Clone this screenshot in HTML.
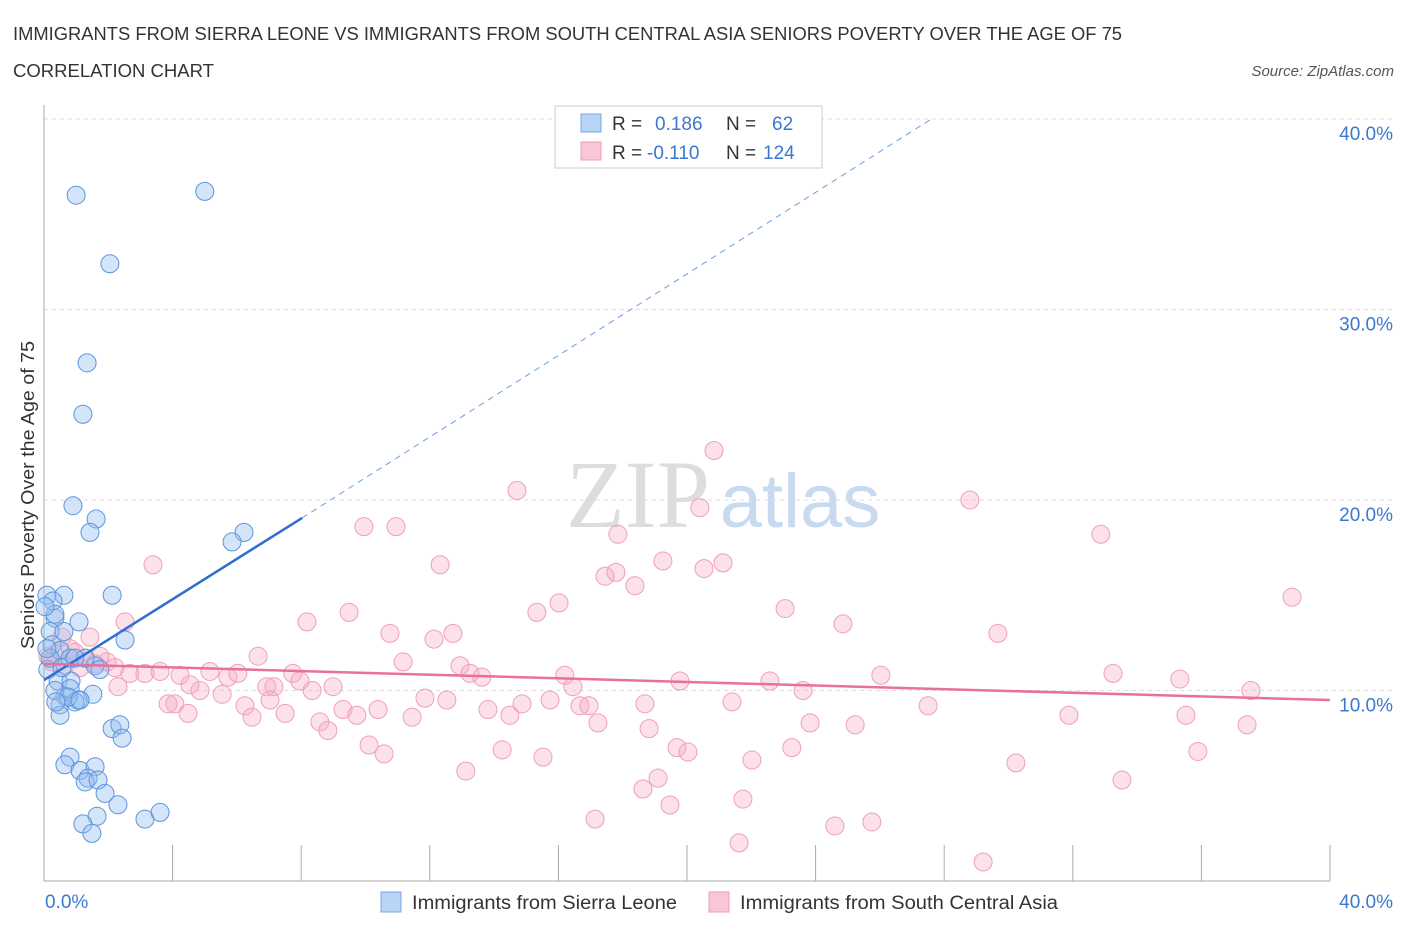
<!DOCTYPE html>
<html><head><meta charset="utf-8"><style>
body{margin:0;background:#fff;font-family:"Liberation Sans",sans-serif}
</style></head><body>
<svg id="chart" width="1406" height="930" xmlns="http://www.w3.org/2000/svg" font-family="Liberation Sans, sans-serif">
<text x="13" y="40" font-size="18" fill="#333" textLength="1109" lengthAdjust="spacingAndGlyphs">IMMIGRANTS FROM SIERRA LEONE VS IMMIGRANTS FROM SOUTH CENTRAL ASIA SENIORS POVERTY OVER THE AGE OF 75</text>
<text x="13" y="77" font-size="18" fill="#333" textLength="201" lengthAdjust="spacingAndGlyphs">CORRELATION CHART</text>
<text x="1394" y="76" font-size="15" fill="#555" text-anchor="end" font-style="italic">Source: ZipAtlas.com</text>
<g>
<text x="638" y="527" font-size="96" fill="#ddd" text-anchor="middle" font-family="Liberation Serif, serif">ZIP</text>
<text x="800" y="527" font-size="76" fill="#c8daf0" text-anchor="middle">atlas</text>
</g>
<g id="grid"></g><g id="axes"></g><g id="pts"></g><g id="trend"></g>
<text transform="translate(34,495) rotate(-90)" font-size="18" fill="#333" text-anchor="middle" textLength="308" lengthAdjust="spacingAndGlyphs">Seniors Poverty Over the Age of 75</text>
<g>
<rect x="555" y="106" width="267" height="62" fill="#fff" stroke="#ccc"/>
<rect x="581" y="114" width="20" height="18" fill="#b8d4f6" stroke="#7aa8e6"/>
<rect x="581" y="142" width="20" height="18" fill="#f9c6d6" stroke="#ee9ab6"/>
<text x="612" y="130" font-size="19" fill="#333">R =</text><text x="655" y="130" font-size="19" fill="#3a78d0">0.186</text>
<text x="726" y="130" font-size="19" fill="#333">N =</text><text x="772" y="130" font-size="19" fill="#3a78d0">62</text>
<text x="612" y="159" font-size="19" fill="#333">R =</text><text x="647" y="159" font-size="19" fill="#3a78d0">-0.110</text>
<text x="726" y="159" font-size="19" fill="#333">N =</text><text x="763" y="159" font-size="19" fill="#3a78d0">124</text>
</g>
<g>
<rect x="381" y="892" width="20" height="20" fill="#b8d4f6" stroke="#7aa8e6"/>
<text x="412" y="909" font-size="19" fill="#333" textLength="265" lengthAdjust="spacingAndGlyphs">Immigrants from Sierra Leone</text>
<rect x="709" y="892" width="20" height="20" fill="#f9c6d6" stroke="#ee9ab6"/>
<text x="740" y="909" font-size="19" fill="#333" textLength="318" lengthAdjust="spacingAndGlyphs">Immigrants from South Central Asia</text>
</g>
</svg>
<script>
const yTicks=[10,20,30,40];
const yTickLabels=["10.0%","20.0%","30.0%","40.0%"];
const xTicks=[0,4,8,12,16,20,24,28,32,36,40];
const xEndLabels=["0.0%","40.0%"];
const blueX=[1,5,2.05,1.34,1.21,0.9,1.62,1.43,6.22,5.85,2.12,0.62,0.09,0.28,0.34,1.09,2.52,0.19,0.25,0.5,0.81,1.59,0.12,0.44,0.84,1.52,0.65,1.06,0.5,0.96,0.81,0.34,0.5,2.12,2.36,2.43,0.81,0.65,1.12,1.59,1.37,1.28,1.68,1.9,2.3,1.65,1.21,1.49,3.14,3.61,0.19,0.09,0.56,1.28,1.74,0.75,0.96,0.37,0.62,1.12,0.34,0.03];
const blueY=[36.0,36.2,32.4,27.2,24.5,19.7,19.0,18.3,18.3,17.8,15.0,15.0,15.0,14.7,13.8,13.6,12.65,13.1,12.4,12.1,11.7,11.3,11.1,10.5,10.5,9.8,9.7,9.5,9.25,9.4,10.1,10.0,8.7,8.0,8.2,7.5,6.5,6.1,5.8,6.0,5.4,5.2,5.3,4.6,4.0,3.4,3.0,2.5,3.25,3.6,11.7,12.2,11.2,11.7,11.1,9.65,11.7,9.4,13.1,9.5,14.0,14.4];
const pinkX=[20.84,14.71,28.8,20.4,9.95,10.95,17.85,32.87,3.39,12.32,19.25,21.12,20.53,17.79,17.45,18.38,16.02,38.82,9.49,15.33,23.05,2.52,8.18,24.85,10.76,12.72,12.13,29.67,0.56,1.43,6.66,11.17,12.94,13.25,13.62,16.2,33.25,35.33,26.03,19.78,22.58,16.45,23.61,37.54,1.96,2.21,2.67,3.14,3.61,4.23,5.16,5.72,6.03,6.93,7.15,7.74,7.96,8.34,8.99,7.03,4.85,5.54,4.54,2.3,3.86,4.07,4.48,6.25,6.47,7.5,8.58,8.83,9.3,9.73,10.39,11.45,11.85,12.53,13.81,14.49,14.87,15.74,16.67,16.95,17.23,18.69,21.4,23.83,25.23,27.5,31.88,35.52,37.42,10.11,10.58,14.25,15.52,13.12,18.82,19.69,20.03,22.02,23.26,30.23,33.53,35.89,19.1,18.63,19.47,21.74,17.14,24.6,25.75,21.62,29.21,1.28,1.59,0.34,0.81,1.74,0.65,1.12,0.96,0.12,0.25];
const pinkY=[22.6,20.5,20.0,19.6,18.6,18.6,18.2,18.2,16.6,16.6,16.8,16.7,16.4,16.2,16.0,15.5,14.6,14.9,14.1,14.1,14.3,13.6,13.6,13.5,13.0,13.0,12.7,13.0,12.8,12.8,11.8,11.5,11.3,10.9,10.7,10.8,10.9,10.6,10.8,10.5,10.5,10.2,10.0,10.0,11.5,11.2,10.9,10.9,11.0,10.8,11.0,10.7,10.9,10.2,10.2,10.9,10.5,10.0,10.2,9.5,10.0,9.8,10.3,10.2,9.3,9.3,8.8,9.2,8.6,8.8,8.35,7.9,9.0,8.7,9.0,8.6,9.6,9.5,9.0,8.7,9.3,9.5,9.2,9.2,8.3,9.3,9.4,8.3,8.2,9.2,8.7,8.7,8.2,7.14,6.67,6.88,6.5,5.77,8.0,7.0,6.77,6.35,7.0,6.2,5.3,6.8,5.4,4.83,3.99,4.3,3.25,2.89,3.1,2.0,1.0,11.7,11.4,11.9,12.2,11.8,11.3,11.2,12.0,11.8,11.5];
const blueTrendX=[0,8.03,27.6],blueTrendY=[10.55,19.06,40.0];
const pinkTrendX=[0,40],pinkTrendY=[11.4,9.5];
const sx=v=>44+v*32.15, sy=v=>881-v*19.05;
const NS="http://www.w3.org/2000/svg";
function mk(p,t,a){const e=document.createElementNS(NS,t);for(const k in a)e.setAttribute(k,a[k]);p.appendChild(e);return e;}
const grid=document.getElementById('grid'),axes=document.getElementById('axes'),pts=document.getElementById('pts'),tr=document.getElementById('trend');
yTicks.forEach((t,i)=>{const l=mk(grid,'line',{x1:44,x2:1392,y1:sy(t),y2:sy(t),stroke:'#ddd','stroke-dasharray':'4,4'});


const tx=mk(axes,'text',{x:1393,y:sy(t)+21,'font-size':19,fill:'#3a78d0','text-anchor':'end'});tx.textContent=yTickLabels[i];

});
const ax=mk(axes,'line',{x1:44,x2:1330,y1:881,y2:881,stroke:'#aaa'});


const ay=mk(axes,'line',{x1:44,x2:44,y1:105,y2:881,stroke:'#aaa'});


xTicks.forEach(t=>{const l=mk(axes,'line',{x1:sx(t),x2:sx(t),y1:881,y2:t===0?881:845,stroke:'#aaa'});

});
[[0,'start',45],[40,'end',1393]].forEach((d,i)=>{const tx=mk(axes,'text',{x:d[2],y:908,'font-size':19,fill:'#3a78d0','text-anchor':d[1]});tx.textContent=xEndLabels[i];

});
pinkX.forEach((x,i)=>{const c=mk(pts,'circle',{cx:sx(x),cy:sy(pinkY[i]),r:9,fill:'rgba(246,170,196,0.35)',stroke:'#ef9fba','stroke-width':1});

});
blueX.forEach((x,i)=>{const c=mk(pts,'circle',{cx:sx(x),cy:sy(blueY[i]),r:9,fill:'rgba(150,190,240,0.4)',stroke:'#5b95dd','stroke-width':1});

});
let b=mk(tr,'line',{x1:sx(blueTrendX[0]),y1:sy(blueTrendY[0]),x2:sx(blueTrendX[1]),y2:sy(blueTrendY[1]),stroke:'#2f6fd4','stroke-width':2.5});


b=mk(tr,'line',{x1:sx(blueTrendX[1]),y1:sy(blueTrendY[1]),x2:sx(blueTrendX[2]),y2:sy(blueTrendY[2]),stroke:'#6b9ee0','stroke-width':1,'stroke-dasharray':'6,5'});


const p=mk(tr,'line',{x1:sx(pinkTrendX[0]),y1:sy(pinkTrendY[0]),x2:sx(pinkTrendX[1]),y2:sy(pinkTrendY[1]),stroke:'#e8709a','stroke-width':2.5});


</script>
</body></html>
